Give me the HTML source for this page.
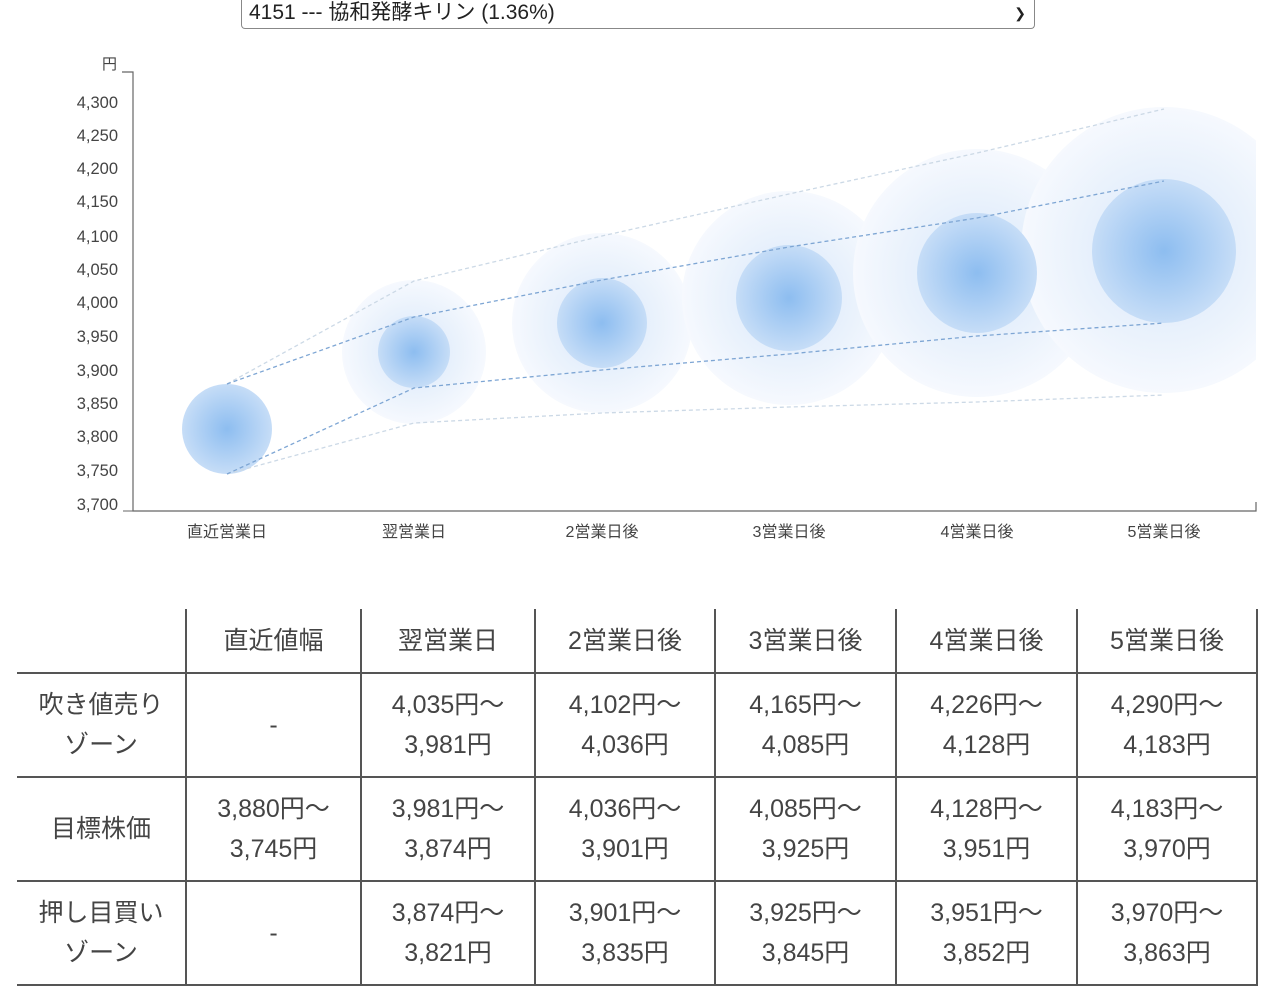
<!DOCTYPE html>
<html><head><meta charset="utf-8"><style>
body{margin:0;background:#fff;width:1280px;height:996px;overflow:hidden;font-family:"Liberation Sans","Noto Sans CJK JP",sans-serif;color:#333}
.sel{position:absolute;left:241px;top:-4px;width:794px;height:33px;border:1px solid #888;border-top:none;border-radius:0 0 4px 4px;font-size:21px;line-height:34px;box-sizing:border-box;padding-left:7px;color:#222}
.sel span{position:absolute;right:8px;top:0;font-size:14px}
svg{position:absolute;left:0;top:0}
table{position:absolute;left:17px;top:609px;border-collapse:collapse;font-size:25px;color:#444}
td{border:2px solid #555;text-align:center;line-height:40px;padding:0}
tr:first-child td{border-top:none;height:63px}
td:first-child{border-left:none}
td:last-child{border-right:2px solid #555}
tr td{height:102px}
</style></head><body>
<div class="sel">4151 --- 協和発酵キリン (1.36%)<span>&#10095;</span></div>
<svg width="1280" height="600" viewBox="0 0 1280 600">
<defs>
<radialGradient id="gi"><stop offset="0" stop-color="#8dbdf0"/><stop offset="1" stop-color="#c6ddf7"/></radialGradient>
<radialGradient id="go"><stop offset="0.4" stop-color="#e3eefb"/><stop offset="1" stop-color="#f6f9fe"/></radialGradient>
<clipPath id="c"><rect x="133" y="60" width="1123" height="452"/></clipPath>
</defs>
<g font-size="16.5" fill="#444" text-anchor="end">
<text x="117" y="69" font-size="15">円</text>
<text x="118" y="108">4,300</text><text x="118" y="141">4,250</text><text x="118" y="174">4,200</text><text x="118" y="207">4,150</text><text x="118" y="242">4,100</text><text x="118" y="275">4,050</text><text x="118" y="308">4,000</text><text x="118" y="342">3,950</text><text x="118" y="376">3,900</text><text x="118" y="409">3,850</text><text x="118" y="442">3,800</text><text x="118" y="476">3,750</text><text x="118" y="510">3,700</text>
</g>
<g clip-path="url(#c)">
<circle cx="414" cy="352" r="72" fill="url(#go)"/>
<circle cx="602" cy="323" r="90" fill="url(#go)"/>
<circle cx="789" cy="298" r="107" fill="url(#go)"/>
<circle cx="977" cy="273" r="124" fill="url(#go)"/>
<circle cx="1164" cy="250" r="143" fill="url(#go)"/>
<circle cx="227" cy="429" r="45" fill="url(#gi)"/>
<circle cx="414" cy="352" r="36" fill="url(#gi)"/>
<circle cx="602" cy="323" r="45" fill="url(#gi)"/>
<circle cx="789" cy="298" r="53" fill="url(#gi)"/>
<circle cx="977" cy="273" r="60" fill="url(#gi)"/>
<circle cx="1164" cy="251" r="72" fill="url(#gi)"/>
<g fill="none" stroke-dasharray="4,3" stroke-width="1.3">
<polyline stroke="#ccd9e6" points="227,384 414,281 602,236 789,194 977,153 1164,109"/>
<polyline stroke="#ccd9e6" points="227,474 414,423 602,413 789,407 977,402 1164,395"/>
<polyline stroke="#7ea6d4" points="227,384 414,317 602,280 789,247 977,218 1164,181"/>
<polyline stroke="#7ea6d4" points="227,474 414,388 602,370 789,354 977,336 1164,323"/>
</g>
</g>
<path d="M122,72H133V511H1256V502" fill="none" stroke="#666" stroke-width="1.2"/>
<path d="M123,511H133" stroke="#666"/>
<g font-size="16" fill="#444" text-anchor="middle">
<text x="227" y="537">直近営業日</text><text x="414" y="537">翌営業日</text><text x="602" y="537">2営業日後</text><text x="789" y="537">3営業日後</text><text x="977" y="537">4営業日後</text><text x="1164" y="537">5営業日後</text>
</g>
</svg>
<table>
<tr><td style="width:168px"></td><td style="width:173px">直近値幅</td><td style="width:172px">翌営業日</td><td style="width:178px">2営業日後</td><td style="width:179px">3営業日後</td><td style="width:179px">4営業日後</td><td style="width:178px">5営業日後</td></tr>
<tr><td>吹き値売り<br>ゾーン</td><td>-</td><td>4,035円〜<br>3,981円</td><td>4,102円〜<br>4,036円</td><td>4,165円〜<br>4,085円</td><td>4,226円〜<br>4,128円</td><td>4,290円〜<br>4,183円</td></tr>
<tr><td>目標株価</td><td>3,880円〜<br>3,745円</td><td>3,981円〜<br>3,874円</td><td>4,036円〜<br>3,901円</td><td>4,085円〜<br>3,925円</td><td>4,128円〜<br>3,951円</td><td>4,183円〜<br>3,970円</td></tr>
<tr><td>押し目買い<br>ゾーン</td><td>-</td><td>3,874円〜<br>3,821円</td><td>3,901円〜<br>3,835円</td><td>3,925円〜<br>3,845円</td><td>3,951円〜<br>3,852円</td><td>3,970円〜<br>3,863円</td></tr>
</table>
</body></html>
